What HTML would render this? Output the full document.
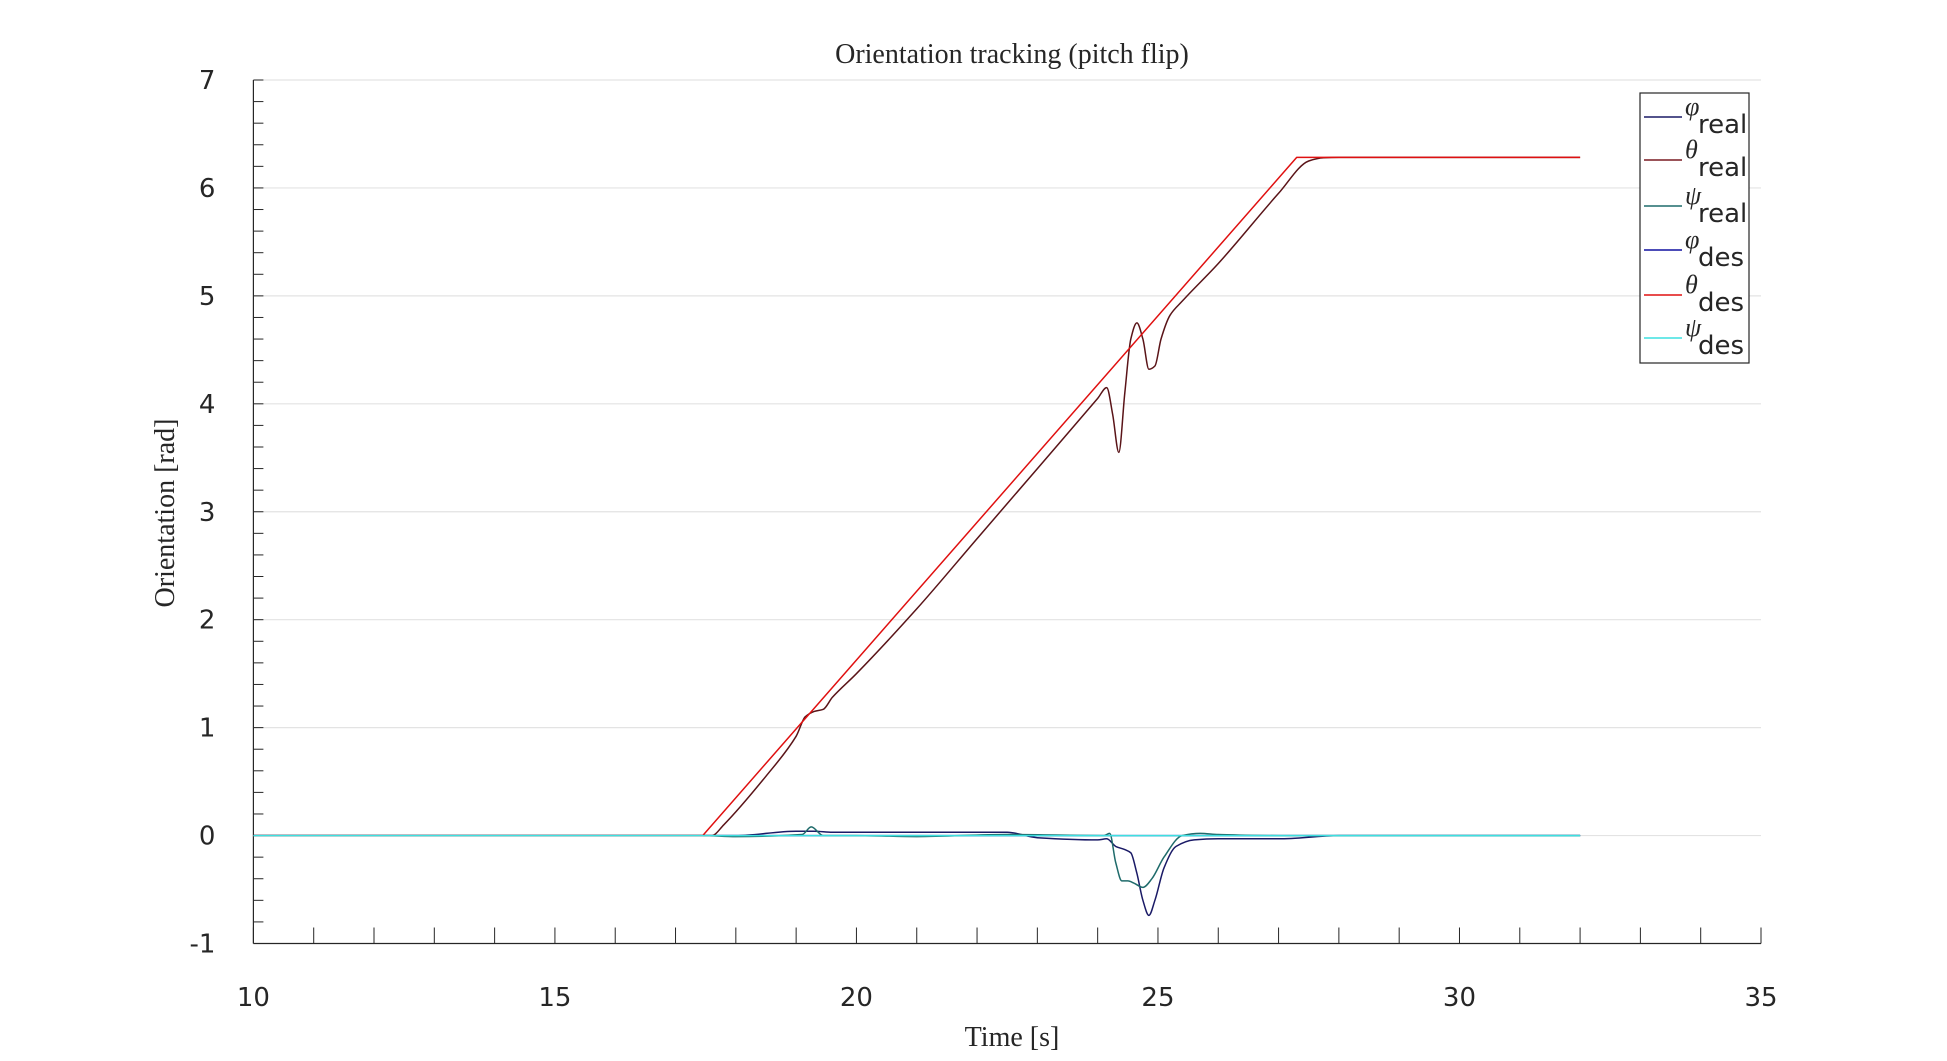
<!DOCTYPE html>
<html><head><meta charset="utf-8">
<style>
html,body{margin:0;padding:0;background:#fff;}
svg{display:block;}
.tk{font-family:"DejaVu Sans","Liberation Sans",sans-serif;font-size:26px;fill:#262626;}
.sf{font-family:"Liberation Serif",serif;fill:#262626;}
</style></head>
<body>
<svg id="chart" width="1947" height="1061" viewBox="0 0 1947 1061">
<text class="sf" x="1012" y="63" font-size="28" text-anchor="middle">Orientation tracking (pitch flip)</text>
<text class="sf" x="1012" y="1046" font-size="28" text-anchor="middle" fill="#595959">Time [s]</text>
<text class="sf" font-size="28" text-anchor="middle" transform="translate(174,513) rotate(-90)">Orientation [rad]</text>
<g id="grid"></g>
<g id="axes"></g>
<g id="series"></g>
<g id="legend">
<rect x="1640" y="93" width="109" height="270" fill="#fff" stroke="#262626" stroke-width="1.2"/>
</g>
</svg>
<script>
const xTicks=[10,15,20,25,30,35];
const yTicks=[-1,0,1,2,3,4,5,6,7];
const tThetaDes=[10,17.45,27.3,32];
const vThetaDes=[0,0,6.283,6.283];
const tThetaReal=[10,17.6,17.8,18.5,19.0,19.15,19.3,19.45,19.6,20,21,22,23,24.0,24.15,24.25,24.35,24.45,24.55,24.65,24.75,24.85,24.95,25.05,25.2,25.4,26,27,27.5,27.75,28,32];
const vThetaReal=[0,0,0.1,0.55,0.92,1.1,1.15,1.17,1.28,1.5,2.1,2.75,3.4,4.05,4.15,3.9,3.55,4.1,4.6,4.75,4.6,4.32,4.35,4.6,4.82,4.95,5.3,5.95,6.25,6.28,6.283,6.283];
const tPhiReal=[10,17.45,18,19,19.3,19.6,20,21.5,22.5,23,24.0,24.15,24.3,24.45,24.55,24.65,24.75,24.85,24.95,25.1,25.3,25.6,26,27,28,32];
const vPhiReal=[0,0,0.0,0.04,0.04,0.03,0.03,0.03,0.03,-0.02,-0.04,-0.03,-0.1,-0.13,-0.16,-0.35,-0.6,-0.74,-0.6,-0.3,-0.1,-0.04,-0.03,-0.03,0,0];
const tPsiReal=[10,17.45,18,19.1,19.25,19.45,20,21,22.5,24.1,24.2,24.3,24.4,24.5,24.6,24.75,24.9,25.1,25.4,25.7,26,27,32];
const vPsiReal=[0,0,-0.01,0.01,0.08,0.0,0.0,-0.01,0.01,0.0,0.02,-0.25,-0.42,-0.42,-0.44,-0.48,-0.4,-0.2,0.0,0.02,0.01,0,0];
const tZero=[10,32];
const vZero=[0,0];
const NS='http://www.w3.org/2000/svg';
const X0=253.4,X1=1761,Y0=943.5,Y1=80;
function sx(t){return X0+(t-10)/(35-10)*(X1-X0);}
function sy(v){return Y0-(v+1)/(7+1)*(Y0-Y1);}
function mk(tag,attrs,parent){const e=document.createElementNS(NS,tag);for(const k in attrs)e.setAttribute(k,attrs[k]);parent.appendChild(e);return e;}
const grid=document.getElementById('grid'),axes=document.getElementById('axes'),ser=document.getElementById('series'),leg=document.getElementById('legend');
yTicks.forEach(v=>{
 if(v>-1){const g=mk('line',{x1:X0,x2:X1,y1:sy(v),y2:sy(v),stroke:'#e3e3e3','stroke-width':1.2},grid);
 
 }
 const l=mk('text',{x:X0-38,y:sy(v)+9,'text-anchor':'end',class:'tk'},axes);l.textContent=v;
 
 
});
for(let i=0;i<=40;i++){const v=-1+i*0.2;
 mk('line',{x1:X0,x2:X0+10,y1:sy(v),y2:sy(v),stroke:'#262626','stroke-width':1},axes);}
for(let t=10;t<=35;t++){mk('line',{x1:sx(t),x2:sx(t),y1:Y0,y2:Y0-16,stroke:'#262626','stroke-width':1},axes);}
xTicks.forEach(t=>{const l=mk('text',{x:sx(t),y:1006,'text-anchor':'middle',class:'tk'},axes);l.textContent=t;
 
 });
const ya=mk('line',{x1:X0,x2:X0,y1:Y1,y2:Y0,stroke:'#262626','stroke-width':1.2},axes);


const xa=mk('line',{x1:X0,x2:X1,y1:Y0,y2:Y0,stroke:'#262626','stroke-width':1.2},axes);


function pathD(ts,vs,smooth){
 const n=ts.length;
 let d='M'+sx(ts[0]).toFixed(1)+','+sy(vs[0]).toFixed(1);
 const m=ts.map((t,i)=>{
  if(i===0||i===n-1)return 0;
  const s1=(vs[i]-vs[i-1])/(ts[i]-ts[i-1]),s2=(vs[i+1]-vs[i])/(ts[i+1]-ts[i]);
  if(s1*s2<=0)return 0;
  return 2/(1/s1+1/s2);
 });
 for(let i=0;i<n-1;i++){
  if(!smooth){d+=' L'+sx(ts[i+1]).toFixed(1)+','+sy(vs[i+1]).toFixed(1);continue;}
  const h=ts[i+1]-ts[i];
  const c1t=ts[i]+h/3,c1v=vs[i]+m[i]*h/3,c2t=ts[i+1]-h/3,c2v=vs[i+1]-m[i+1]*h/3;
  d+=' C'+sx(c1t).toFixed(1)+','+sy(c1v).toFixed(1)+' '+sx(c2t).toFixed(1)+','+sy(c2v).toFixed(1)+' '+sx(ts[i+1]).toFixed(1)+','+sy(vs[i+1]).toFixed(1);
 }
 return d;
}
function line(ts,vs,color,name,smooth){const p=mk('path',{d:pathD(ts,vs,smooth),fill:'none',stroke:color,'stroke-width':1.5,'stroke-linejoin':'round'},ser);
 
 }
line(tZero,vZero,'#1010a0','phi-des-line',false);
line(tPhiReal,vPhiReal,'#1a1a66','phi-real-line',true);
line(tPsiReal,vPsiReal,'#1f6b6b','psi-real-line',true);
line(tThetaReal,vThetaReal,'#5a1418','theta-real-line',true);
line(tThetaDes,vThetaDes,'#e01010','theta-des-line',false);
line(tZero,vZero,'#3de0e0','psi-des-line',false);
const entries=[['φ','real','#1a1a66',117],['θ','real','#7a1a22',160],['ψ','real','#1f6b6b',206],['φ','des','#1010a0',250],['θ','des','#e01010',295],['ψ','des','#3de0e0',338]];
entries.forEach(e=>{
 const g=mk('g',{},leg);
 
 
 mk('line',{x1:1644,x2:1682,y1:e[3],y2:e[3],stroke:e[2],'stroke-width':1.5},g);
 const s=mk('text',{x:1685,y:e[3]-2,class:'sf','font-size':26,'font-style':'italic'},g);s.textContent=e[0];
 const b=mk('text',{x:1698,y:e[3]+16,class:'tk','font-size':22},g);b.textContent=e[1];
});
</script>
</body></html>
